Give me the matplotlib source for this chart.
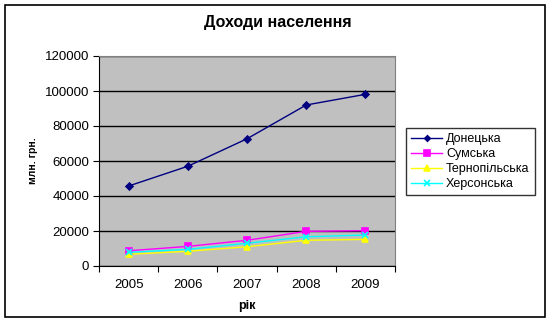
import matplotlib.pyplot as plt
from matplotlib.patches import Rectangle

plt.rcParams['font.family'] = ['Liberation Sans', 'DejaVu Sans']

years = ['2005', '2006', '2007', '2008', '2009']
donetska = [45700, 57000, 72700, 92000, 98100]
sumska = [8700, 11200, 14700, 19800, 20200]
ternopilska = [6700, 8400, 11000, 14700, 15200]
khersonska = [7800, 9500, 13000, 16700, 17700]

series = [
    ('Донецька', donetska, '#000080', 'D', 3.5),
    ('Сумська', sumska, '#FF00FF', 's', 5),
    ('Тернопільська', ternopilska, '#FFFF00', '^', 5),
    ('Херсонська', khersonska, '#00FFFF', 'x', 5),
]

fig = plt.figure(figsize=(5.5, 3.22), dpi=100)
fig.patches.append(Rectangle((0.009, 0.016), 0.982, 0.968, transform=fig.transFigure,
                             fill=False, edgecolor='black', linewidth=1.2))

ax = fig.add_axes([99 / 550, 1 - 266 / 322, 296 / 550, 210 / 322])
ax.set_facecolor('#C0C0C0')
for sp in ax.spines.values():
    sp.set_color('#808080')
ax.spines['left'].set_color('black')
ax.spines['bottom'].set_color('black')

x = range(len(years))
for name, vals, col, mk, ms in series:
    ax.plot(x, vals, color=col, marker=mk, markersize=ms, linewidth=1, label=name,
            markeredgewidth=1.2)

ax.set_xlim(-0.5, len(years) - 0.5)
ax.set_ylim(0, 120000)
ax.set_yticks(range(0, 120001, 20000))
ax.grid(axis='y', color='black', linewidth=1)
ax.set_axisbelow(True)
ax.set_xticks([i - 0.5 for i in range(len(years) + 1)])
ax.set_xticklabels([])
ax.set_xticks(list(x), minor=True)
ax.set_xticklabels(years, minor=True)
ax.tick_params(axis='x', which='minor', length=0, pad=9, labelsize=9.5)
ax.tick_params(axis='x', which='major', length=4, direction='out')
ax.tick_params(axis='y', length=4, labelsize=9.5, pad=3)

ax.set_xlabel('рік', fontsize=9, fontweight='bold', labelpad=7)
ax.set_ylabel('млн. грн.', fontsize=7.5, fontweight='bold', labelpad=5)
fig.text(0.505, 0.93, 'Доходи населення', ha='center', va='center',
         fontsize=11.5, fontweight='bold')

leg = fig.legend(loc='upper left', bbox_to_anchor=(406 / 550, 1 - 128 / 322),
                 fontsize=9, frameon=True, fancybox=False, edgecolor='black',
                 handlelength=2.5, borderpad=0.4, labelspacing=0.25,
                 handletextpad=0.3, borderaxespad=0, markerscale=0.8)
leg.get_frame().set_linewidth(1)

fig.savefig('out.png', dpi=100)
